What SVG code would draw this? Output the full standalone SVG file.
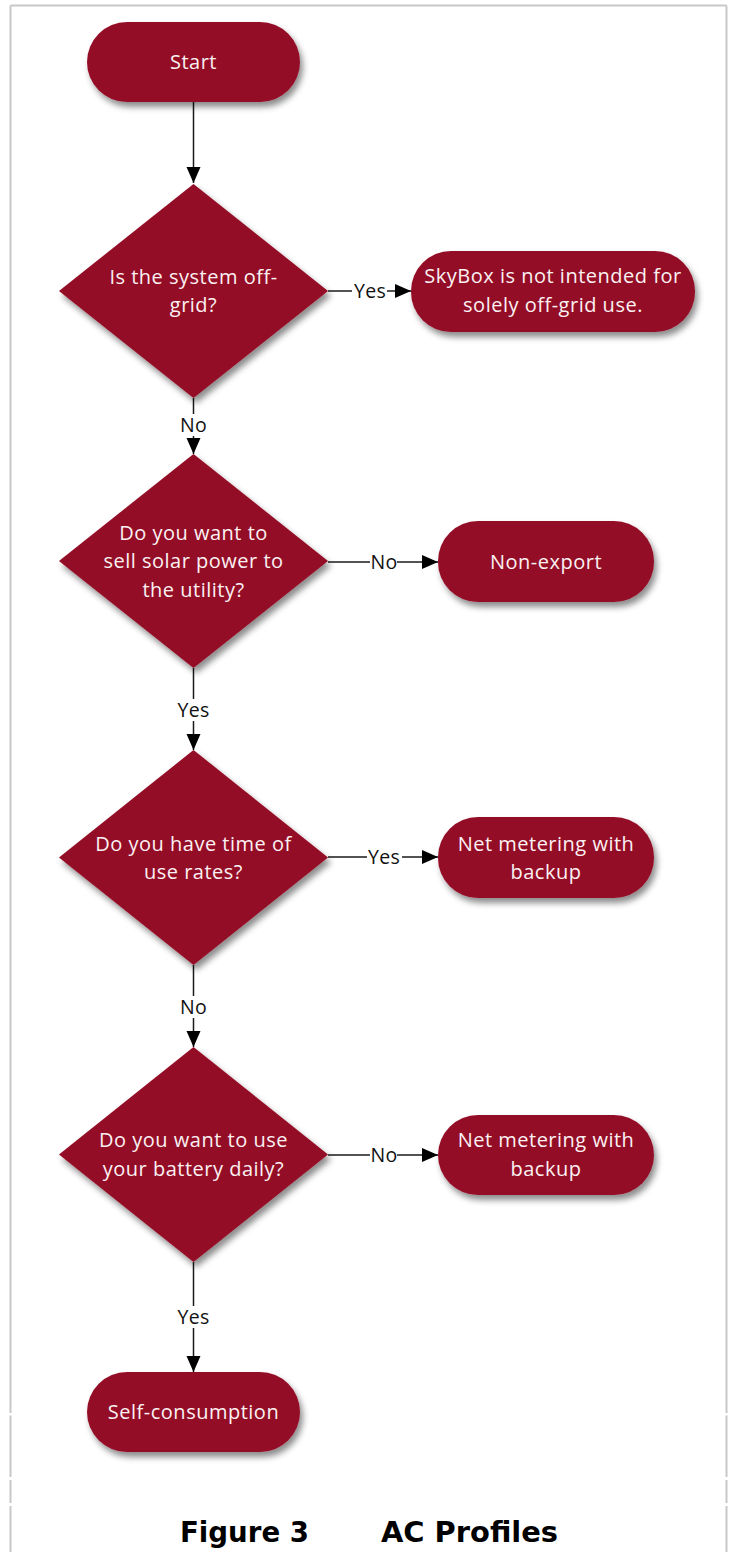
<svg xmlns="http://www.w3.org/2000/svg" width="733" height="1552" viewBox="0 0 733 1552">
  <style>
    .node { fill: #940A26; filter: url(#sh); }
    .nt { font-family: "Open Sans", "Noto Sans", sans-serif; font-size: 20px; letter-spacing: 0.5px; fill: #fbf1f3; text-anchor: middle; }
    .lbl { font-family: "Open Sans", "Noto Sans", sans-serif; font-size: 19.5px; letter-spacing: 0.3px; fill: #111; text-anchor: middle; }
    .conn { stroke: #1a1a1a; stroke-width: 1.5; fill: none; }
    .lbg { fill: #ffffff; }
    .frame { stroke: #c8c8c8; stroke-width: 2; fill: none; }
    .cap { font-family: "DejaVu Sans", "Liberation Sans", sans-serif; font-weight: bold; font-size: 28px; fill: #000; }
  </style>
  <defs>
    <filter id="sh" x="-20%" y="-20%" width="150%" height="160%">
      <feDropShadow dx="3" dy="5" stdDeviation="3" flood-color="#000" flood-opacity="0.45"/>
    </filter>
    <marker id="ah" markerUnits="userSpaceOnUse" markerWidth="18" markerHeight="18" viewBox="0 0 18 18" refX="17" refY="9" orient="auto">
      <path d="M1,2 L17,9 L1,16 Z" fill="#000"/>
    </marker>
  </defs>

  <g id="frame">
    <line class="frame" x1="10.5" y1="5.5" x2="726.5" y2="5.5"/>
    <path class="frame" d="M10.5,5.5 V1413 M10.5,1415.5 V1477 M10.5,1480 V1503 M10.5,1506 V1552"/>
    <path class="frame" d="M726.5,5.5 V1413 M726.5,1415.5 V1477 M726.5,1480 V1503 M726.5,1506 V1552"/>
  </g>

  <g id="connectors">
    <line class="conn" x1="193.5" y1="102" x2="193.5" y2="183" marker-end="url(#ah)"/>
    <line class="conn" x1="328" y1="291" x2="411" y2="291" marker-end="url(#ah)"/>
    <line class="conn" x1="193.5" y1="398" x2="193.5" y2="454" marker-end="url(#ah)"/>
    <line class="conn" x1="328" y1="562" x2="438" y2="562" marker-end="url(#ah)"/>
    <line class="conn" x1="193.5" y1="668" x2="193.5" y2="750" marker-end="url(#ah)"/>
    <line class="conn" x1="328" y1="857" x2="438" y2="857" marker-end="url(#ah)"/>
    <line class="conn" x1="193.5" y1="965" x2="193.5" y2="1047" marker-end="url(#ah)"/>
    <line class="conn" x1="328" y1="1155" x2="438" y2="1155" marker-end="url(#ah)"/>
    <line class="conn" x1="193.5" y1="1262" x2="193.5" y2="1372" marker-end="url(#ah)"/>

    <rect class="lbg" x="352" y="280" width="35" height="22"/>
    <text class="lbl" x="370" y="297.5">Yes</text>
    <rect class="lbg" x="180" y="414" width="27" height="22"/>
    <text class="lbl" x="193.5" y="432">No</text>
    <rect class="lbg" x="370" y="551" width="27" height="22"/>
    <text class="lbl" x="384" y="569">No</text>
    <rect class="lbg" x="176" y="699" width="35" height="22"/>
    <text class="lbl" x="193.5" y="717">Yes</text>
    <rect class="lbg" x="367" y="846" width="35" height="22"/>
    <text class="lbl" x="384" y="864">Yes</text>
    <rect class="lbg" x="180" y="996" width="27" height="22"/>
    <text class="lbl" x="193.5" y="1014">No</text>
    <rect class="lbg" x="370" y="1144" width="27" height="22"/>
    <text class="lbl" x="384" y="1162">No</text>
    <rect class="lbg" x="176" y="1306" width="35" height="22"/>
    <text class="lbl" x="193.5" y="1324">Yes</text>
  </g>

  <g id="start">
    <rect class="node" x="87" y="22" width="213" height="80" rx="40"/>
    <text class="nt" x="193.5" y="69">Start</text>
  </g>

  <g id="d1">
    <polygon class="node" points="193.5,184 328,291 193.5,398 59,291"/>
    <text class="nt" x="193.5" y="284">Is the system off-</text>
    <text class="nt" x="193.5" y="312">grid?</text>
  </g>

  <g id="skybox">
    <rect class="node" x="411" y="251" width="284" height="81" rx="40"/>
    <text class="nt" x="553" y="283">SkyBox is not intended for</text>
    <text class="nt" x="553" y="312">solely off-grid use.</text>
  </g>

  <g id="d2">
    <polygon class="node" points="193.5,454 328,561 193.5,668 59,561"/>
    <text class="nt" x="193.5" y="540">Do you want to</text>
    <text class="nt" x="193.5" y="568">sell solar power to</text>
    <text class="nt" x="193.5" y="597">the utility?</text>
  </g>

  <g id="nonexport">
    <rect class="node" x="438" y="521" width="216" height="81" rx="40"/>
    <text class="nt" x="546" y="568.5">Non-export</text>
  </g>

  <g id="d3">
    <polygon class="node" points="193.5,750 328,857.5 193.5,965 59,857.5"/>
    <text class="nt" x="193.5" y="851">Do you have time of</text>
    <text class="nt" x="193.5" y="879">use rates?</text>
  </g>

  <g id="netmeter1">
    <rect class="node" x="438" y="817" width="216" height="81" rx="40"/>
    <text class="nt" x="546" y="851">Net metering with</text>
    <text class="nt" x="546" y="879">backup</text>
  </g>

  <g id="d4">
    <polygon class="node" points="193.5,1047 328,1154.5 193.5,1262 59,1154.5"/>
    <text class="nt" x="193.5" y="1147">Do you want to use</text>
    <text class="nt" x="193.5" y="1176">your battery daily?</text>
  </g>

  <g id="netmeter2">
    <rect class="node" x="438" y="1115" width="216" height="80" rx="40"/>
    <text class="nt" x="546" y="1147">Net metering with</text>
    <text class="nt" x="546" y="1176">backup</text>
  </g>

  <g id="selfconsumption">
    <rect class="node" x="87" y="1372" width="213" height="80" rx="40"/>
    <text class="nt" x="193.5" y="1419">Self-consumption</text>
  </g>

  <g id="caption">
    <text class="cap" x="180" y="1542" textLength="129" lengthAdjust="spacingAndGlyphs">Figure 3</text>
    <text class="cap" x="381" y="1542" textLength="177" lengthAdjust="spacingAndGlyphs">AC Profiles</text>
  </g>
</svg>
